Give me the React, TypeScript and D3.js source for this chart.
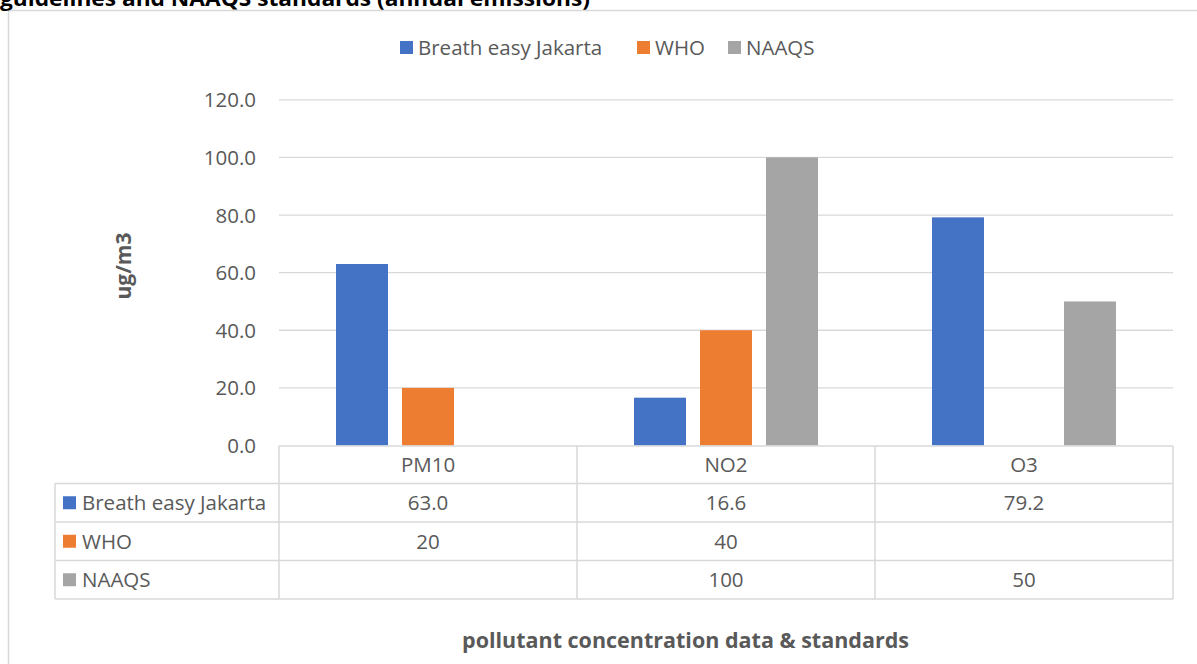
import React from "react";
import * as d3 from "d3";

const categories = ["PM10", "NO2", "O3"];
const seriesNames = ["Breath easy Jakarta", "WHO", "NAAQS"];
const jakarta: (number | null)[] = [63.0, 16.6, 79.2];
const who: (number | null)[] = [20, 40, null];
const naaqs: (number | null)[] = [null, 100, 50];
const tableLabels = [
  ["63.0", "16.6", "79.2"],
  ["20", "40", ""],
  ["", "100", "50"],
];
const yTicks = [0, 20, 40, 60, 80, 100, 120];
const colors = ["#4472C4", "#ED7D31", "#A5A5A5"];

const W = 1197;
const H = 664;
const FONT = "'Open Sans', 'Noto Sans', sans-serif";
const TXT = "#595959";
const GRID = "#D9D9D9";
const FS = 20.5;

export default function App() {
  const series = [jakarta, who, naaqs];
  const plotLeft = 279;
  const plotRight = 1173;
  const y = d3.scaleLinear().domain([0, 120]).range([445.5, 99.8]);
  const x = d3.scaleBand<string>().domain(categories).range([plotLeft, plotRight]).paddingInner(0).paddingOuter(0);
  const bw = x.bandwidth();
  const groupW = 184;
  const xi = d3
    .scaleBand<string>()
    .domain(seriesNames)
    .range([(bw - groupW) / 2, (bw + groupW) / 2])
    .paddingInner(14 / 66)
    .paddingOuter(0);

  const rowTops = [446, 483.5, 522, 560.5, 599];
  const tableLeft = 55;

  const legendItems = [
    { name: seriesNames[0], x: 400 },
    { name: seriesNames[1], x: 637 },
    { name: seriesNames[2], x: 728 },
  ];

  return (
    <svg
      width={W}
      height={H}
      style={{ position: "absolute", left: 0, top: 0, background: "#fff" }}
      fontFamily={FONT}
    >
      <rect x={0} y={0} width={W} height={H} fill="#fff" />
      {/* outer chart frame */}
      <path d={`M${W} 10.5 H8.5 V${H}`} fill="none" stroke={GRID} strokeWidth={1.5} />
      {/* clipped title from above */}
      <text x={0} y={6} fontSize={21} fontWeight="bold" fill="#000" textLength={590} lengthAdjust="spacingAndGlyphs">
        guidelines and NAAQS standards (annual emissions)
      </text>

      {/* legend */}
      {legendItems.map((l, i) => (
        <g key={l.name}>
          <rect x={l.x} y={41} width={13} height={13} fill={colors[i]} />
          <text x={l.x + 18} y={55} fontSize={FS} fill={TXT}>
            {l.name}
          </text>
        </g>
      ))}

      {/* gridlines */}
      {yTicks.map((t) => (
        <g key={t}>
          {t > 0 && (
            <line x1={plotLeft} x2={plotRight} y1={y(t)} y2={y(t)} stroke={GRID} strokeWidth={1.3} />
          )}
          <text x={256} y={y(t) + 7.5} textAnchor="end" fontSize={FS} fill={TXT}>
            {t.toFixed(1)}
          </text>
        </g>
      ))}

      {/* bars */}
      {series.map((vals, si) =>
        vals.map((v, ci) =>
          v == null ? null : (
            <rect
              key={`${si}-${ci}`}
              x={(x(categories[ci]) as number) + (xi(seriesNames[si]) as number)}
              y={y(v)}
              width={xi.bandwidth()}
              height={y(0) - y(v)}
              fill={colors[si]}
            />
          )
        )
      )}

      {/* data table */}
      <g stroke={GRID} strokeWidth={1.5} fill="none">
        <line x1={plotLeft} x2={plotRight} y1={rowTops[0]} y2={rowTops[0]} />
        {rowTops.slice(1).map((ry, i) => (
          <line key={i} x1={tableLeft} x2={plotRight} y1={ry} y2={ry} />
        ))}
        <line x1={tableLeft} x2={tableLeft} y1={rowTops[1]} y2={rowTops[4]} />
        {categories.map((c) => (
          <line key={c} x1={x(c) as number} x2={x(c) as number} y1={rowTops[0]} y2={rowTops[4]} />
        ))}
        <line x1={plotRight} x2={plotRight} y1={rowTops[0]} y2={rowTops[4]} />
      </g>
      {categories.map((c) => (
        <text
          key={c}
          x={(x(c) as number) + bw / 2}
          y={(rowTops[0] + rowTops[1]) / 2 + 7.5}
          textAnchor="middle"
          fontSize={FS}
          fill={TXT}
        >
          {c}
        </text>
      ))}
      {seriesNames.map((s, si) => {
        const cy = (rowTops[si + 1] + rowTops[si + 2]) / 2;
        return (
          <g key={s}>
            <rect x={63} y={cy - 6.5} width={13} height={13} fill={colors[si]} />
            <text x={82} y={cy + 7.5} fontSize={FS} fill={TXT}>
              {s}
            </text>
            {categories.map((c, ci) => (
              <text
                key={c}
                x={(x(c) as number) + bw / 2}
                y={cy + 7.5}
                textAnchor="middle"
                fontSize={FS}
                fill={TXT}
              >
                {tableLabels[si][ci]}
              </text>
            ))}
          </g>
        );
      })}

      {/* axis titles */}
      <text
        transform={`translate(131,266) rotate(-90)`}
        textAnchor="middle"
        fontSize={21}
        fontWeight="bold"
        fill={TXT}
      >
        ug/m3
      </text>
      <text x={685.5} y={648} textAnchor="middle" fontSize={21.5} fontWeight="bold" fill={TXT}>
        pollutant concentration data &amp; standards
      </text>
    </svg>
  );
}
